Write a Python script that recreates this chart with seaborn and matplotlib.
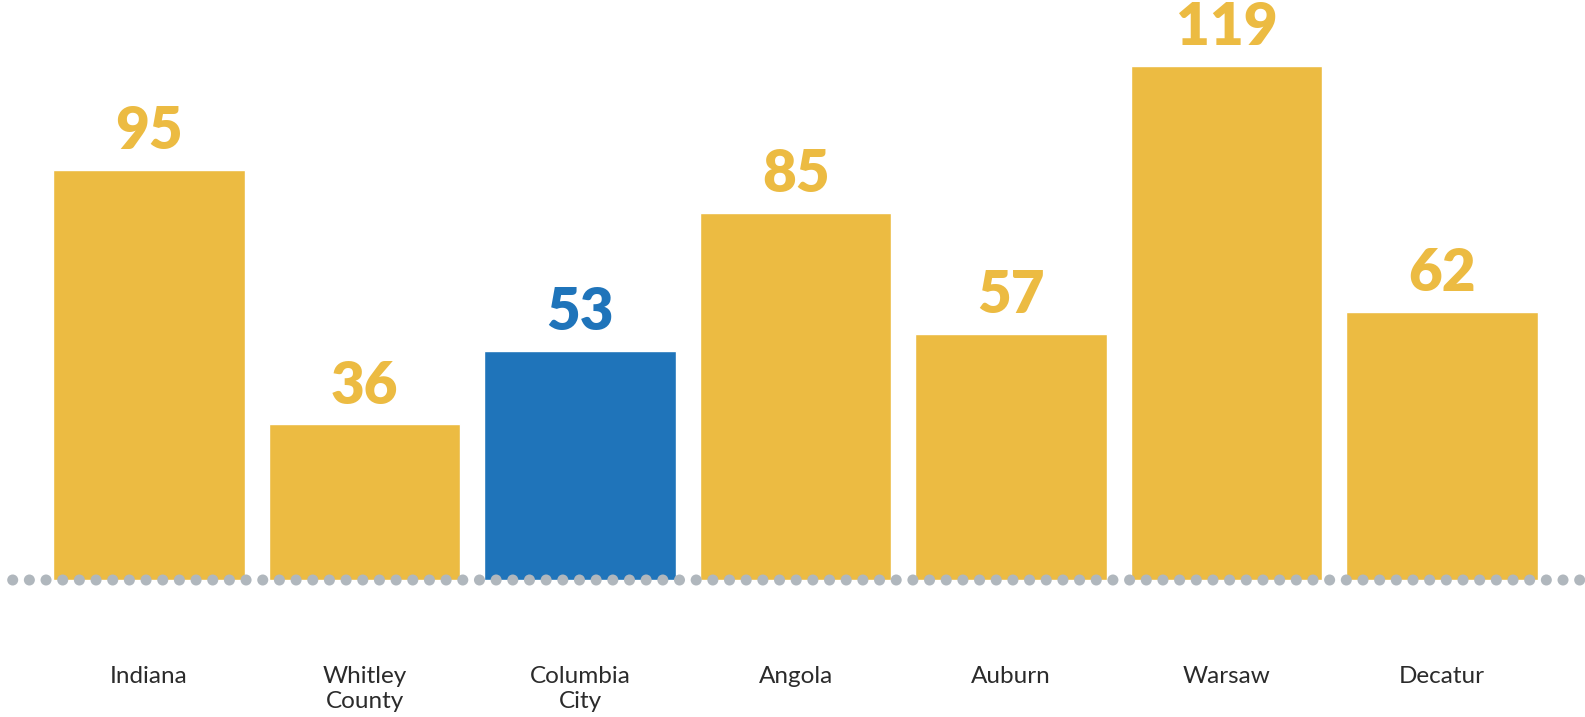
import os
import numpy as np
import pandas as pd
import matplotlib.pyplot as plt
import seaborn as sns
from matplotlib import font_manager

cities = ["Indiana", "Whitley\nCounty", "Columbia\nCity", "Angola", "Auburn", "Warsaw", "Decatur"]
values = [95, 36, 53, 85, 57, 119, 62]
highlight = "Columbia\nCity"

yellow = "#ECBB42"
blue = "#1F74BA"
colors = [blue if c == highlight else yellow for c in cities]

sns.set_style("white")
plt.rcParams['font.family'] = ['Lato', 'DejaVu Sans']


def lato(file_name, size, weight):
    # pick an exact Lato file so the weight does not depend on font cache order
    for f in font_manager.fontManager.ttflist:
        if os.path.basename(f.fname) == file_name:
            return font_manager.FontProperties(fname=f.fname, size=size)
    return font_manager.FontProperties(family=['Lato', 'DejaVu Sans'], size=size, weight=weight)


num_font = lato("Lato-ExtraBold.ttf", 42, "bold")
label_font = lato("Lato-Regular.ttf", 17.5, "normal")

df = pd.DataFrame({"city": cities, "value": values})

fig = plt.figure(figsize=(15.85, 7.17), dpi=100)
ax = fig.add_axes([0, 0, 1, 1])
sns.barplot(data=df, x="city", y="value", hue="city", palette=colors,
            legend=False, width=0.89, saturation=1, ax=ax)

# layout in pixels: bar pitch 215.5, first centre at 149, baseline 137px from bottom
step = 215.5
x0 = 149.1
ppu = 4.32
base = 137
ax.set_xlim(-x0 / step, (1585 - x0) / step)
ax.set_ylim(-base / ppu, (717 - base) / ppu)
ax.axis("off")

# dotted baseline
dots = np.arange(12.7, 1585, 16.67)
ax.scatter((dots - x0) / step, np.zeros(len(dots)), s=63,
           color="#B0B7BD", edgecolor="none", zorder=5)

for i, (c, v) in enumerate(zip(cities, values)):
    col = blue if c == highlight else yellow
    ax.annotate(str(v), (i, v), xytext=(0, 15), textcoords="offset points",
                ha="center", va="baseline", fontproperties=num_font,
                color=col)
    ax.text(i, -19.8, c, ha="center", va="top", fontproperties=label_font,
            color="#2b2b2b", linespacing=1.28)

fig.savefig("out.png", dpi=100)
